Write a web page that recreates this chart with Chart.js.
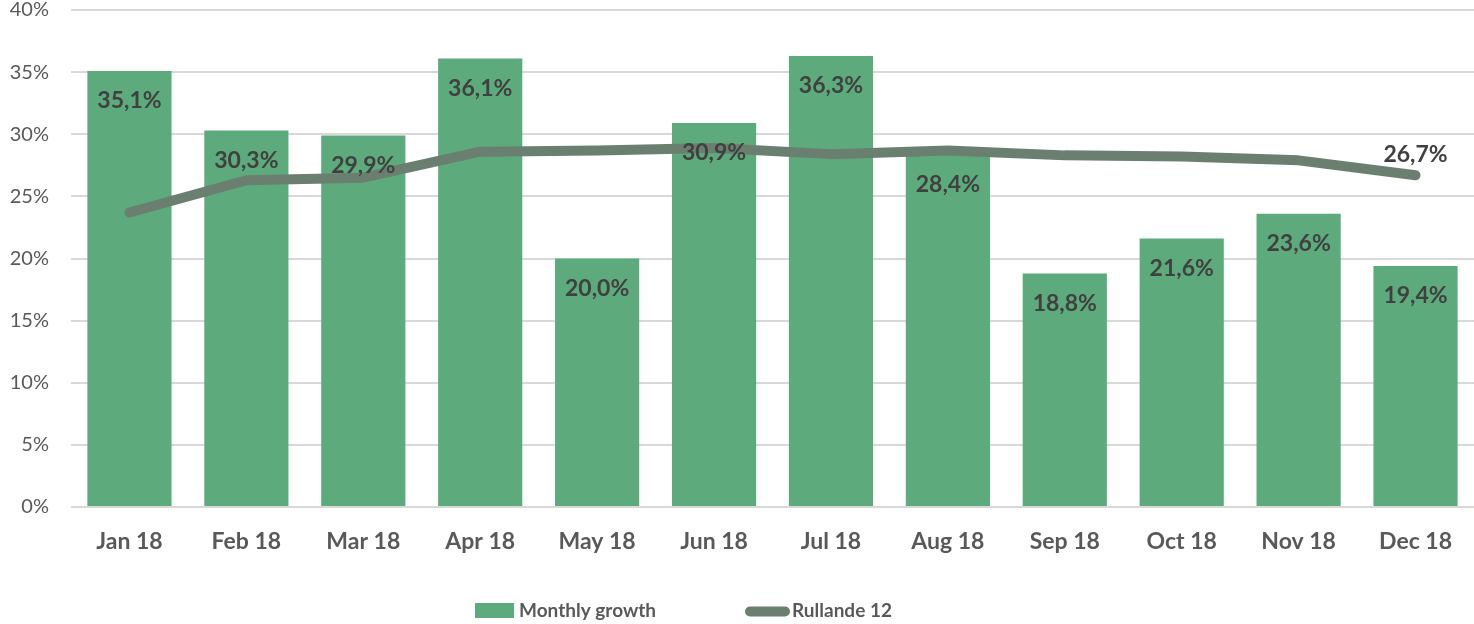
<!DOCTYPE html>
<html><head><meta charset="utf-8">
<script src="https://cdn.jsdelivr.net/npm/chart.js@4/dist/chart.umd.min.js"></script>
<style>html,body{margin:0;padding:0;background:#fff}#wrap{width:1474px;height:624px;position:relative}</style>
</head><body><div id="wrap"><canvas id="c" width="1474" height="624"></canvas></div>
<script>
const categories = ['Jan 18','Feb 18','Mar 18','Apr 18','May 18','Jun 18','Jul 18','Aug 18','Sep 18','Oct 18','Nov 18','Dec 18'];
const monthlyGrowth = [35.1,30.3,29.9,36.1,20.0,30.9,36.3,28.4,18.8,21.6,23.6,19.4];
const rullande12 = [23.7,26.3,26.5,28.6,28.7,28.9,28.4,28.7,28.3,28.2,27.9,26.7];
const seriesNames = ['Monthly growth','Rullande 12'];
const yTicks = [0,5,10,15,20,25,30,35,40];

const BAR = '#5dab7c', LINE = '#6b7f70', LABEL = '#404040', AXIS = '#595959';
const fmt = v => v.toFixed(1).replace('.', ',') + '%';

const labelPlugin = {
  id: 'labels',
  afterDatasetsDraw(chart) {
    const ctx = chart.ctx;
    ctx.save();
    ctx.font = 'bold 23px Lato';
    ctx.fillStyle = LABEL;
    ctx.textAlign = 'center';
    ctx.textBaseline = 'middle';
    const bm = chart.getDatasetMeta(0);
    bm.data.forEach((el, i) => {
      ctx.fillText(fmt(monthlyGrowth[i]), el.x, el.y + 30);
    });
    const lm = chart.getDatasetMeta(1);
    const last = lm.data[lm.data.length - 1];
    ctx.fillText(fmt(rullande12[rullande12.length - 1]), last.x, last.y - 21);
    // legend
    ctx.fillStyle = BAR;
    ctx.fillRect(475, 603, 39, 15);
    ctx.strokeStyle = LINE;
    ctx.lineWidth = 10;
    ctx.lineCap = 'round';
    ctx.beginPath(); ctx.moveTo(750, 611.5); ctx.lineTo(785, 611.5); ctx.stroke();
    ctx.fillStyle = AXIS;
    ctx.font = 'bold 19px Lato';
    ctx.textAlign = 'left';
    ctx.fillText(seriesNames[0], 519, 611);
    ctx.fillText(seriesNames[1], 792, 611);
    ctx.restore();
  }
};

new Chart(document.getElementById('c'), {
  data: {
    labels: categories,
    datasets: [
      { type: 'bar', label: seriesNames[0], data: monthlyGrowth, backgroundColor: BAR,
        categoryPercentage: 1, barPercentage: 0.72, order: 1 },
      { type: 'line', label: seriesNames[1], data: rullande12, borderColor: LINE, borderWidth: 10,
        borderCapStyle: 'round', borderJoinStyle: 'round', pointRadius: 0, tension: 0, order: 0 }
    ]
  },
  options: {
    responsive: false,
    animation: false,
    layout: { padding: { top: 10, right: 0, bottom: 0, left: 0 } },
    plugins: { legend: { display: false }, tooltip: { enabled: false } },
    scales: {
      x: {
        grid: { display: false },
        border: { display: false },
        ticks: { color: AXIS, font: { family: 'Lato', weight: 'bold', size: 23 }, padding: 13 },
        afterFit: s => { s.height = 117; s.paddingLeft = 0; s.paddingRight = 0; }
      },
      y: {
        min: 0, max: 40,
        afterBuildTicks: s => { s.ticks = yTicks.map(v => ({ value: v })); },
        grid: { color: '#d9d9d9', lineWidth: 2, drawTicks: false },
        border: { display: false },
        ticks: { color: AXIS, font: { family: 'Lato', size: 20 }, padding: 22, callback: v => v + '%' },
        afterFit: s => { s.width = 71; s.paddingTop = 0; s.paddingBottom = 0; }
      }
    }
  },
  plugins: [labelPlugin]
});
</script></body></html>
